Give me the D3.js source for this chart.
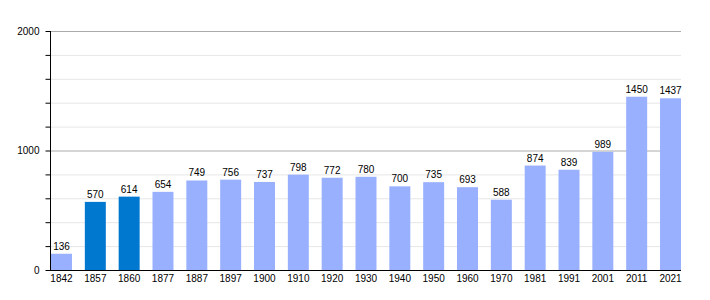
<!DOCTYPE html>
<html><head><meta charset="utf-8">
<script src="https://cdn.jsdelivr.net/npm/d3@7"></script>
<style>body{margin:0;background:#fff}text{font-family:"Liberation Sans",Arial,sans-serif;font-size:10px;fill:#000}</style>
</head><body>
<svg id="c" width="710" height="300"></svg>
<script>
const years = ["1842","1857","1860","1877","1887","1897","1900","1910","1920","1930","1940","1950","1960","1970","1981","1991","2001","2011","2021"];
const population = [136,570,614,654,749,756,737,798,772,780,700,735,693,588,874,839,989,1450,1437];
const highlighted = ["1857","1860"];
const majorTicks = [0,1000,2000];
const minorTicks = [200,400,600,800,1200,1400,1600,1800];

(function(){
const svg = d3.select("#c");
const mLeft = 50, mRight = 681, mTop = 31, mBottom = 270;
const x = d3.scaleBand().domain(years).range([51, mRight]).paddingInner(0.38).paddingOuter(0);
const y = d3.scaleLinear().domain([0,2000]).range([mBottom, mTop]);

svg.append("g").selectAll("line").data(minorTicks).join("line")
  .attr("x1", mLeft).attr("x2", mRight).attr("y1", d=>y(d)+0.5).attr("y2", d=>y(d)+0.5)
  .attr("stroke", "#e6e6e6").attr("stroke-width", 1);
svg.append("g").selectAll("line").data(majorTicks.filter(d=>d>0)).join("line")
  .attr("x1", mLeft).attr("x2", mRight).attr("y1", d=>y(d)+0.5).attr("y2", d=>y(d)+0.5)
  .attr("stroke", "#aaaaaa").attr("stroke-width", 1);

svg.append("g").selectAll("rect").data(years).join("rect")
  .attr("x", d=>x(d)).attr("width", x.bandwidth())
  .attr("y", (d,i)=>y(population[i])).attr("height", (d,i)=>mBottom - y(population[i]))
  .attr("fill", d=>highlighted.includes(d) ? "#0078d0" : "#99b0ff");

svg.append("g").selectAll("text").data(years).join("text")
  .attr("x", d=>x(d)+x.bandwidth()/2).attr("y", (d,i)=>y(population[i])-4)
  .attr("text-anchor","middle").text((d,i)=>population[i]);

const yAxis = svg.append("g").attr("transform", `translate(${mLeft+0.5},0)`);
yAxis.call(d3.axisLeft(y).tickValues(majorTicks).tickSize(5).tickPadding(6).tickFormat(d3.format("d")));
yAxis.append("g").selectAll("line").data(minorTicks).join("line")
  .attr("x1",-5).attr("x2",0).attr("y1",d=>y(d)+0.5).attr("y2",d=>y(d)+0.5).attr("stroke","#000");
yAxis.select(".domain").attr("d", `M0,${mTop}V${mBottom}`);
yAxis.selectAll("text").style("font-size","10px").attr("fill","#000");

const xAxis = svg.append("g").attr("transform", `translate(0,${mBottom+0.5})`);
xAxis.call(d3.axisBottom(x).tickSize(0).tickPadding(4));
xAxis.select(".domain").attr("d", `M${mLeft},0H${mRight}`);
xAxis.selectAll("text").style("font-size","10px").attr("fill","#000");
})();
</script>
</body></html>
